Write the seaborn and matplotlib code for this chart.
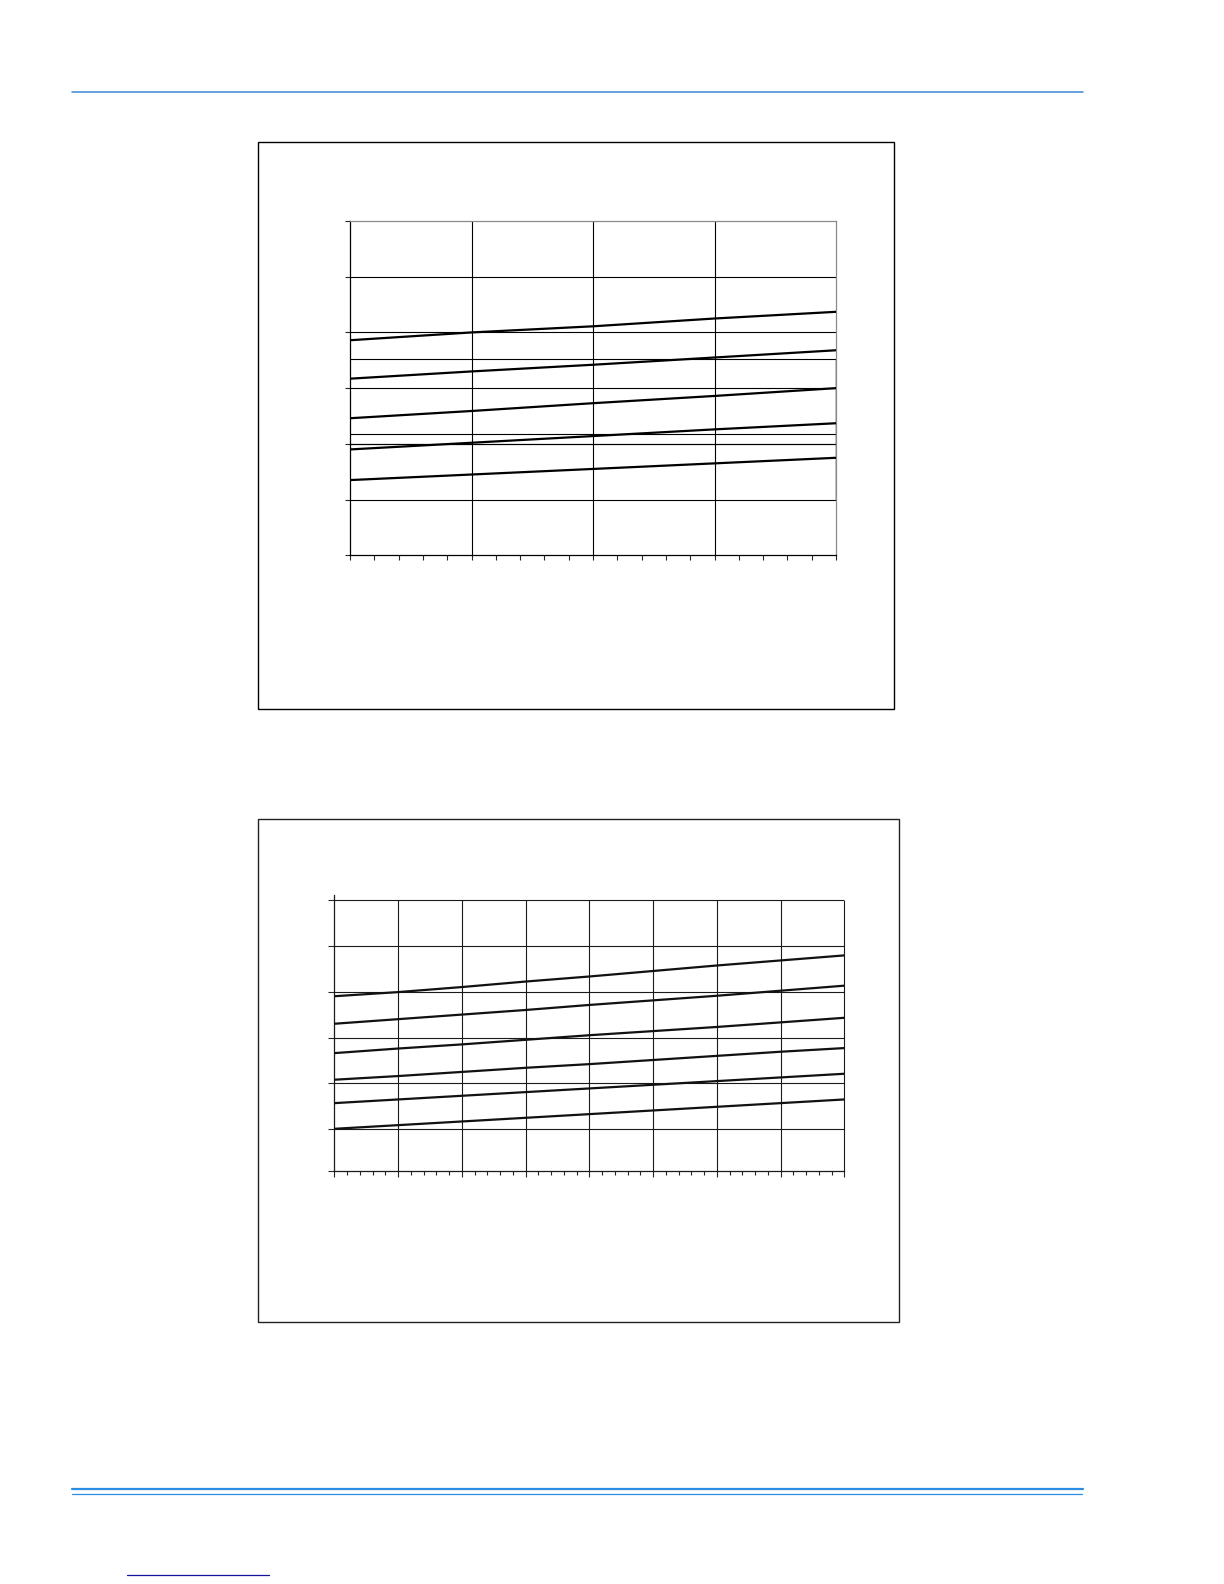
"""
两张无标注的曲线图（页面复刻）。
"""

import matplotlib.pyplot as plt
import matplotlib.ticker as mticker
from matplotlib.lines import Line2D
from matplotlib.patches import Rectangle
import seaborn as sns
import pandas as pd

sns.set_style("white")

# 图 1 数据
c1_x = [0, 10, 20, 30, 40]
c1_curves = {
    "c1": [38.6, 40.0, 41.1, 42.5, 43.7],
    "c2": [31.7, 33.0, 34.2, 35.5, 36.8],
    "c3": [24.6, 25.9, 27.3, 28.6, 30.0],
    "c4": [19.0, 20.2, 21.4, 22.6, 23.7],
    "c5": [13.5, 14.5, 15.5, 16.5, 17.5],
}
c1_ygrid = [10, 20, 30, 40, 50]
c1_xgrid = [10, 20, 30]
c1_yticks = [0, 10, 20, 30, 40, 50, 60]
# 叠加的矩形框（原图中的残留框线）
c1_box_levels = [35.3, 21.7, 20.0]
c1_box_edge = [10.0, 35.3]

# 图 2 数据
c2_x = [0, 10, 20, 30, 40, 50, 60, 70, 80]
c2_curves = {
    "d1": [39.0, 39.9, 41.0, 42.2, 43.3, 44.5, 45.7, 46.8, 47.9],
    "d2": [33.0, 34.0, 35.0, 36.0, 37.1, 38.1, 39.1, 40.2, 41.3],
    "d3": [26.6, 27.6, 28.5, 29.5, 30.5, 31.4, 32.3, 33.3, 34.3],
    "d4": [20.8, 21.6, 22.5, 23.4, 24.2, 25.1, 26.0, 26.9, 27.7],
    "d5": [15.7, 16.5, 17.3, 18.1, 18.9, 19.7, 20.5, 21.3, 22.1],
    "d6": [10.1, 10.9, 11.7, 12.5, 13.3, 14.1, 14.9, 15.7, 16.5],
}
c2_ygrid = [10, 20, 30, 40, 50, 60]
c2_xgrid = [10, 20, 30, 40, 50, 60, 70, 80]
c2_ylim = (0.84, 61.0)

W, H = 1224, 1584


def fx(x):
    return x / W


def fy(y):
    return 1 - y / H


def to_long(xs, curves):
    rows = []
    for name, ys in curves.items():
        for x, y in zip(xs, ys):
            rows.append({"x": x, "y": y, "curve": name})
    return pd.DataFrame(rows)


fig = plt.figure(figsize=(W / 100, H / 100), dpi=100)

# 页眉 / 页脚线
fig.add_artist(Line2D([fx(72), fx(1083)], [fy(92.3)] * 2, color="#3b88d4", lw=1.1))
fig.add_artist(Line2D([fx(72), fx(1083)], [fy(1488.7)] * 2, color="#2b8de0", lw=1.6))
fig.add_artist(Line2D([fx(72), fx(1082)], [fy(1494.3)] * 2, color="#2b8de0", lw=0.9))
fig.add_artist(Line2D([fx(127), fx(269)], [fy(1575.3)] * 2, color="#12129a", lw=0.9))

# 外框
fig.add_artist(Rectangle((fx(258.3), fy(709.3)), (894.3 - 258.3) / W, (709.3 - 141.7) / H,
                         transform=fig.transFigure, fill=False, ec="black", lw=1.0))
fig.add_artist(Rectangle((fx(258.3), fy(1322)), (899.3 - 258.3) / W, (1322 - 819.3) / H,
                         transform=fig.transFigure, fill=False, ec="#222222", lw=1.0))

# ---------- 图 1 ----------
ax1 = fig.add_axes([fx(350), fy(555.3), (836 - 350) / W, (555.3 - 221) / H])
for y in c1_ygrid:
    ax1.axhline(y, color="black", lw=0.8, zorder=1)
for x in c1_xgrid:
    ax1.axvline(x, color="black", lw=0.8, zorder=1)
for y in c1_box_levels:
    ax1.axhline(y, color="black", lw=0.8, zorder=1)
ax1.vlines(c1_x[-1], c1_box_edge[0], c1_box_edge[1], color="black", lw=1.0, zorder=3)

sns.lineplot(data=to_long(c1_x, c1_curves), x="x", y="y", units="curve",
             estimator=None, color="black", lw=1.6, ax=ax1, zorder=4)
ax1.set_xlim(0, 40)
ax1.set_ylim(0, 60)
ax1.set_xticks(c1_x)
ax1.xaxis.set_minor_locator(mticker.MultipleLocator(2))
ax1.set_yticks(c1_yticks)
ax1.tick_params(which="both", direction="out", length=3.8, width=0.8,
                bottom=True, left=True, labelbottom=False, labelleft=False)
for side in ["left", "bottom"]:
    ax1.spines[side].set_color("black")
    ax1.spines[side].set_linewidth(0.9)
for side in ["top", "right"]:
    ax1.spines[side].set_color("#8a8a8a")
    ax1.spines[side].set_linewidth(0.9)
ax1.set_xlabel("")
ax1.set_ylabel("")

# ---------- 图 2 ----------
ax2 = fig.add_axes([fx(334.3), fy(1171.3), (844.3 - 334.3) / W, (1171.3 - 895.3) / H])
for y in c2_ygrid:
    ax2.axhline(y, color="#1a1a1a", lw=0.8, zorder=1)
ax2.vlines(c2_xgrid, c2_ylim[0], c2_ygrid[-1], color="#1a1a1a", lw=0.8, zorder=1,
           clip_on=False)

sns.lineplot(data=to_long(c2_x, c2_curves), x="x", y="y", units="curve",
             estimator=None, color="#111111", lw=1.6, ax=ax2, zorder=4)
ax2.set_xlim(0, 80)
ax2.set_ylim(*c2_ylim)
ax2.set_xticks(c2_x)
ax2.xaxis.set_minor_locator(mticker.MultipleLocator(2))
ax2.set_yticks([c2_ylim[0]] + c2_ygrid)
ax2.tick_params(which="major", direction="out", length=4.5, width=0.8,
                bottom=True, left=True, labelbottom=False, labelleft=False)
ax2.tick_params(which="minor", direction="out", length=3.0, width=0.8, bottom=True)
for side in ["left", "bottom"]:
    ax2.spines[side].set_color("#1a1a1a")
    ax2.spines[side].set_linewidth(0.9)
for side in ["top", "right"]:
    ax2.spines[side].set_visible(False)
ax2.set_xlabel("")
ax2.set_ylabel("")

fig.savefig("out.png", dpi=100)
